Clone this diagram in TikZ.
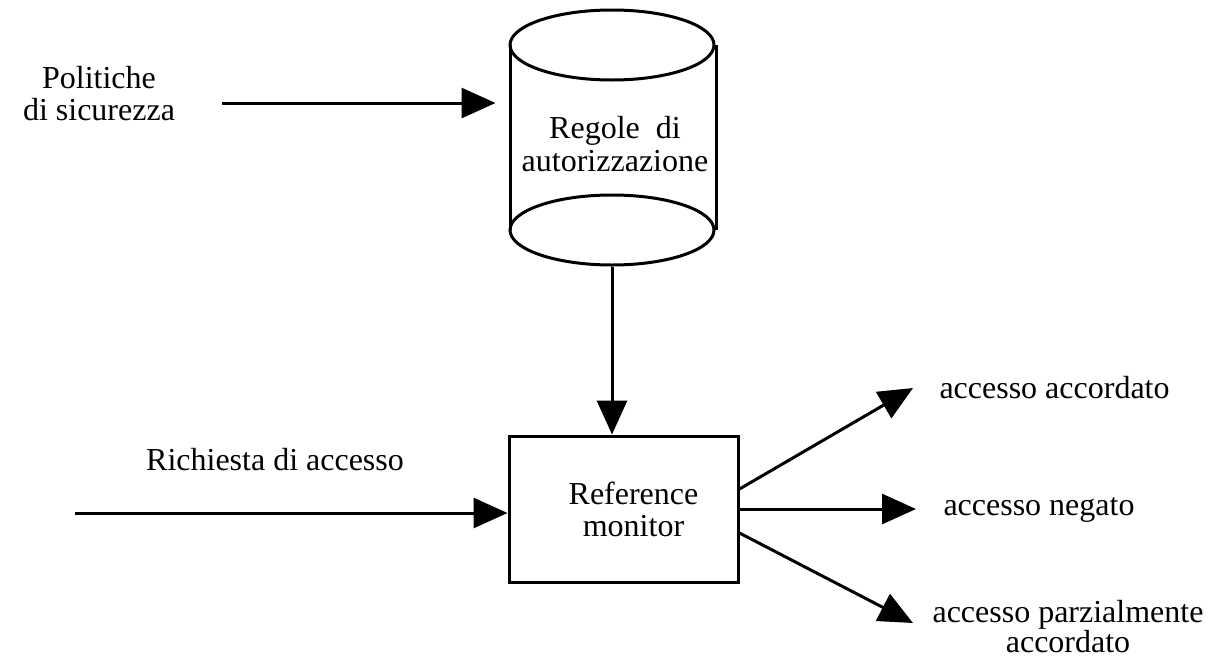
\documentclass[tikz,border=0pt]{standalone}
\usepackage{fontspec}
\setmainfont{Liberation Serif}
\usetikzlibrary{arrows.meta}
\begin{document}
\begin{tikzpicture}[x=0.5pt,y=-0.5pt,
  line width=1.5pt,
  arr/.style={-{Triangle[length=17pt,width=15pt]}},
  lbl/.style={font=\fontsize{16}{15}\selectfont, align=center, inner sep=0pt},
  rmbox/.style={draw, minimum width=114.5pt, minimum height=73pt, inner sep=0pt,
    font=\fontsize{16}{16}\selectfont, align=center}]
\useasboundingbox (0,0) rectangle (1218,659);
% database cylinder
\node[minimum width=103pt, minimum height=127.5pt, inner sep=0pt] (db) at (613,137.5) {};
\draw (510,45) -- (510,230);
\draw (716,45) -- (716,230);
\draw (612,45) ellipse [x radius=102, y radius=35];
\draw (612,230) ellipse [x radius=102, y radius=35];
\node[lbl, font=\fontsize{16}{16.5}\selectfont] (dbtext) at (615,144) {Regole\ \ di\\autorizzazione};
% policies
\node[lbl, font=\fontsize{16}{16}\selectfont] (pol) at (99,94) {Politiche\\di sicurezza};
\coordinate (p1) at (222,103);
\draw[arr] (p1) -- ([xshift=-6.5pt]db.west |- p1);
% reference monitor
\node[rmbox] (rm) at (623.5,509) {\hspace{10pt}Reference\\\hspace{10pt}monitor};
\draw[arr] (db.south -| 612,0) -- (612,0 |- rm.north);
% request
\coordinate (in) at (75,513);
\draw[arr] (in) -- (in -| rm.west);
\node[lbl] (req) at (275,460) {Richiesta di accesso};
% outputs
\coordinate (o1) at (913,388);
\coordinate (o2) at (916,510);
\coordinate (o3) at (913,623);
\draw[arr] ([yshift=10pt]rm.east) -- (o1);
\draw[arr] (rm.east) -- (rm.east -| o2);
\draw[arr] ([yshift=-12pt]rm.east) -- (o3);
\node[lbl, anchor=west] (t1) at (938,388) {accesso accordato};
\node[lbl, anchor=west] (t2) at (942,510) {accesso negato};
\node[lbl] (t3) at (1068,627) {accesso parzialmente\\accordato};
\end{tikzpicture}
\end{document}
